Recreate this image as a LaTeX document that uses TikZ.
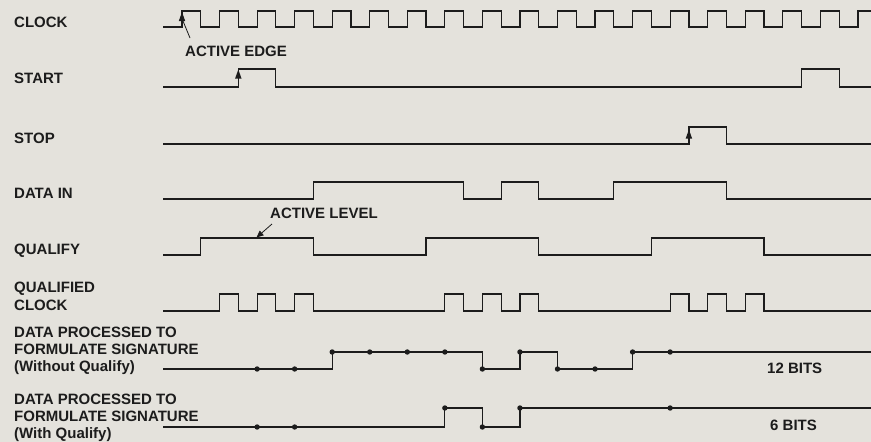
\documentclass[tikz,border=0pt]{standalone}
\usepackage{fontspec}
\setmainfont{Liberation Sans}
\usetikzlibrary{arrows.meta}
\definecolor{paper}{RGB}{228,226,220}
\definecolor{ink}{RGB}{28,28,28}
\begin{document}
\begin{tikzpicture}[x=1pt,y=-1pt,
  wave/.style={draw=ink,line width=1.2pt,line join=miter},
  lbl/.style={anchor=base west,inner sep=0pt,text=ink,font=\fontsize{15}{17}\selectfont\bfseries},
  leader/.style={draw=ink,line width=0.8pt},
  tip/.style={fill=ink}]
\fill[paper] (0,0) rectangle (871,442);
\useasboundingbox (0,0) rectangle (871,442);
% labels
\node[lbl] (lclk) at (14,27) {CLOCK};
\node[lbl] (lstart) at (14,83) {START};
\node[lbl] (lstop) at (14,143) {STOP};
\node[lbl] (ldata) at (14,198) {DATA IN};
\node[lbl] (lqual) at (14,254) {QUALIFY};
\node[lbl] (lqca) at (14,292) {QUALIFIED};
\node[lbl] (lqcb) at (14,310) {CLOCK};
\node[lbl] (lwa) at (14,337) {DATA PROCESSED TO};
\node[lbl] (lwb) at (14,354) {FORMULATE SIGNATURE};
\node[lbl] (lwc) at (14,371) {(Without Qualify)};
\node[lbl] (lqa) at (14,404) {DATA PROCESSED TO};
\node[lbl] (lqb) at (14,421) {FORMULATE SIGNATURE};
\node[lbl] (lqc) at (14,438) {(With Qualify)};
\node[lbl] (ledge) at (185,56) {ACTIVE EDGE};
\node[lbl] (llevel) at (270,218) {ACTIVE LEVEL};
\node[lbl] (ltwelve) at (767,373) {12 BITS};
\node[lbl] (lsix) at (770,430) {6 BITS};
% CLOCK
\draw[wave] (163,27) foreach \k in {0,...,17} { -- ({182+37.55*\k},27) -- ({182+37.55*\k},11) -- ({200.78+37.55*\k},11) -- ({200.78+37.55*\k},27) } -- (857.9,27) -- (857.9,11) -- (871,11);
% START
\draw[wave] (163,87) -- (238.33,87) -- (238.33,69) -- (275.88,69) -- (275.88,87) -- (801.58,87) -- (801.58,69) -- (839.13,69) -- (839.13,87) -- (871,87);
% STOP
\draw[wave] (163,144) -- (688.93,144) -- (688.93,127) -- (726.48,127) -- (726.48,144) -- (871,144);
% DATA IN
\draw[wave] (163,199) -- (313.43,199) -- (313.43,182) -- (463.63,182) -- (463.63,199) -- (501.18,199) -- (501.18,182) -- (538.73,182) -- (538.73,199) -- (613.83,199) -- (613.83,182) -- (726.48,182) -- (726.48,199) -- (871,199);
% QUALIFY
\draw[wave] (163,255) -- (200.78,255) -- (200.78,238) -- (313.43,238) -- (313.43,255) -- (426.08,255) -- (426.08,238) -- (538.73,238) -- (538.73,255) -- (651.38,255) -- (651.38,238) -- (764.03,238) -- (764.03,255) -- (871,255);
% QUALIFIED CLOCK
\draw[wave] (163,311) foreach \k in {1,2,3,7,8,9,13,14,15} { -- ({182+37.55*\k},311) -- ({182+37.55*\k},294) -- ({200.78+37.55*\k},294) -- ({200.78+37.55*\k},311) } -- (871,311);
% WITHOUT QUALIFY
\draw[wave] (163,369) -- (332.2,369) -- (332.2,352) -- (482.4,352) -- (482.4,369) -- (519.95,369) -- (519.95,352) -- (557.5,352) -- (557.5,369) -- (632.6,369) -- (632.6,352) -- (871,352);
\foreach \x/\y in {257.1/369,294.65/369,332.2/352,369.75/352,407.3/352,444.85/352,482.4/369,519.95/352,557.5/369,595.05/369,632.6/352,670.15/352}
  \fill[tip] (\x,\y) circle (2.7pt);
% WITH QUALIFY
\draw[wave] (163,427) -- (444.85,427) -- (444.85,408) -- (482.4,408) -- (482.4,427) -- (519.95,427) -- (519.95,408) -- (871,408);
\foreach \x/\y in {257.1/427,294.65/427,444.85/408,482.4/427,519.95/408,670.15/408}
  \fill[tip] (\x,\y) circle (2.7pt);
% arrow marks
\fill[tip] (182,12) -- (178.8,21) -- (185.2,21) -- cycle;
\draw[leader] (183,21) -- (190,38);
\fill[tip] (238.33,69.5) -- (235.1,78.5) -- (241.5,78.5) -- cycle;
\fill[tip] (688.93,129.5) -- (685.7,138.5) -- (692.1,138.5) -- cycle;
\draw[leader,-{Triangle[length=7pt,width=6pt]}] (272,224) -- (256.5,237.5);
\end{tikzpicture}
\end{document}
